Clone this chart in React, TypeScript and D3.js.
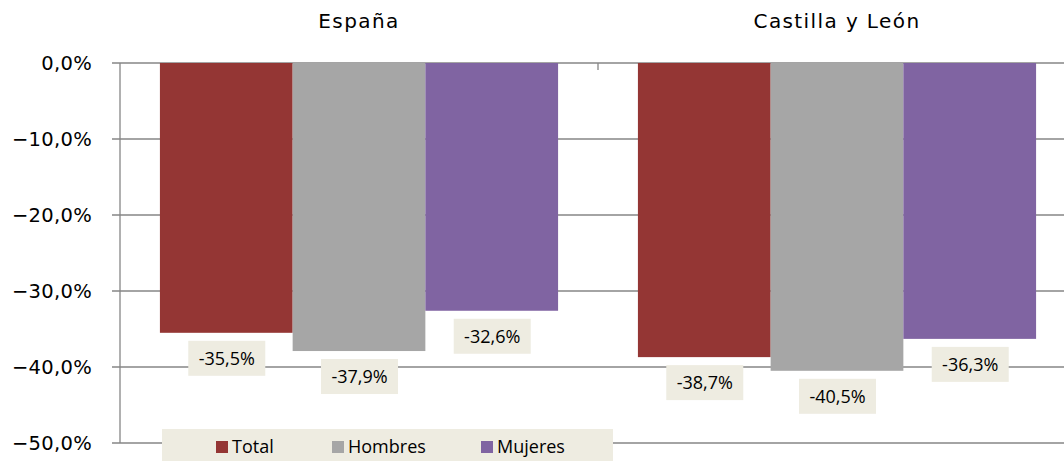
import React from "react";
import * as d3 from "d3";

const categories = ["España", "Castilla y León"];
const seriesNames = ["Total", "Hombres", "Mujeres"];
const seriesColors = ["#943634", "#A6A6A6", "#8064A2"];
const totalValues = [-35.5, -38.7];
const hombresValues = [-37.9, -40.5];
const mujeresValues = [-32.6, -36.3];
const yTicks = [0, -10, -20, -30, -40, -50];

const W = 1064;
const H = 461;
const M = { left: 120, right: -12, top: 63, bottom: 18 };

export default function App() {
  const series = [totalValues, hombresValues, mujeresValues];
  const x0 = d3
    .scaleBand<string>()
    .domain(categories)
    .range([M.left, W - M.right])
    .paddingInner(0)
    .paddingOuter(0);
  const x1 = d3
    .scaleBand<string>()
    .domain(seriesNames)
    .range([0, x0.bandwidth()])
    .paddingInner(0)
    .paddingOuter(40 / 133);
  const y = d3.scaleLinear().domain([0, -50]).range([M.top, H - M.bottom]);
  const fmt = (v: number) => v.toFixed(1).replace(".", ",") + "%";
  const axisFmt = (v: number) => (v < 0 ? "\u2212" + Math.abs(v).toFixed(1) : v.toFixed(1)).replace(".", ",") + "%";
  const font = "'DejaVu Sans', Verdana, sans-serif";
  const labelFont = "'Open Sans', 'Liberation Sans', sans-serif";
  const legendX = [216, 332, 481];

  return (
    <div style={{ position: "fixed", left: 0, top: 0 }}>
      <svg width={W} height={H} style={{ display: "block", background: "#fff" }}>
        {yTicks.map((t) => (
          <line key={t} x1={M.left - 8} x2={W} y1={y(t)} y2={y(t)} stroke="#868686" strokeWidth={1.3} />
        ))}
        <line x1={M.left} x2={M.left} y1={y(0)} y2={y(-50)} stroke="#868686" strokeWidth={1.3} />
        <line x1={x0(categories[1])!} x2={x0(categories[1])!} y1={y(0)} y2={y(0) + 7} stroke="#868686" strokeWidth={1.3} />
        {yTicks.map((t) => (
          <text
            key={"l" + t}
            x={M.left - 28}
            y={y(t)}
            dy="0.35em"
            textAnchor="end"
            fontFamily={font}
            fontSize={19.5}
            letterSpacing={0.3}
            fill="#000"
          >
            {axisFmt(t)}
          </text>
        ))}
        {categories.map((c) => (
          <text
            key={"t" + c}
            x={x0(c)! + x0.bandwidth() / 2}
            y={28}
            textAnchor="middle"
            fontFamily={font}
            fontSize={20}
            letterSpacing={1.4}
            fill="#000"
          >
            {c}
          </text>
        ))}
        {categories.map((c, ci) =>
          seriesNames.map((s, si) => {
            const v = series[si][ci];
            const bx = x0(c)! + x1(s)!;
            return (
              <rect
                key={c + s}
                x={bx}
                y={y(0)}
                width={x1.bandwidth()}
                height={y(v) - y(0)}
                fill={seriesColors[si]}
              />
            );
          })
        )}
        {categories.map((c, ci) =>
          seriesNames.map((s, si) => {
            const v = series[si][ci];
            const cx = x0(c)! + x1(s)! + x1.bandwidth() / 2;
            const top = y(v) + 8;
            return (
              <g key={"d" + c + s}>
                <rect x={cx - 38} y={top} width={77} height={35} fill="#EEECE1" />
                <text
                  x={cx + 0.5}
                  y={top + 17.5}
                  dy="0.35em"
                  textAnchor="middle"
                  fontFamily={labelFont}
                  fontSize={18}
                  fill="#000"
                >
                  {fmt(v)}
                </text>
              </g>
            );
          })
        )}
        <rect x={162} y={429} width={451} height={40} fill="#EEECE1" />
        {seriesNames.map((s, i) => {
          const lx = legendX[i];
          return (
            <g key={"lg" + s}>
              <rect x={lx} y={441} width={12} height={12} fill={seriesColors[i]} />
              <text x={lx + 16} y={447} dy="0.35em" fontFamily={labelFont} fontSize={18} fill="#000">
                {s}
              </text>
            </g>
          );
        })}
      </svg>
    </div>
  );
}
